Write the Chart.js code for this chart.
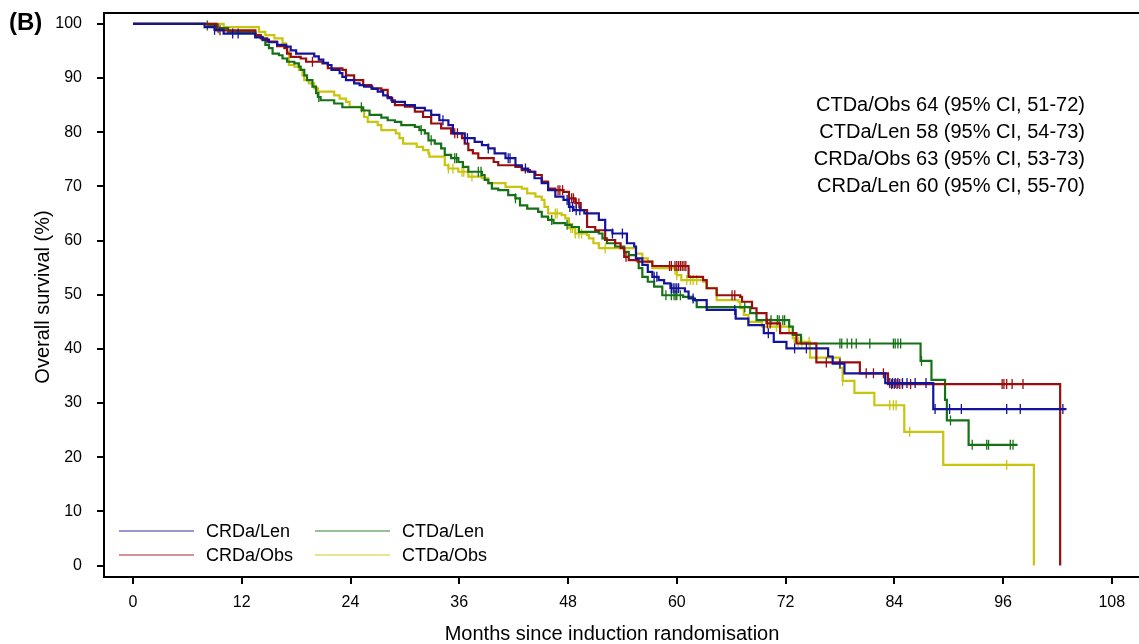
<!DOCTYPE html>
<html>
<head>
<meta charset="utf-8">
<title>Overall survival</title>
<script src="https://cdn.jsdelivr.net/npm/chart.js@4.4.1/dist/chart.umd.min.js"></script>
<style>
  html, body { margin: 0; padding: 0; background: #fff; }
  #wrap { width: 1139px; height: 644px; position: relative; }
</style>
</head>
<body>
<div id="wrap"><canvas id="osChart"></canvas></div>
<script>
// Kaplan-Meier steps: months and survival (%) after each drop
const crdaLenTime = [0, 7.9, 9.0, 10.0, 13.5, 14.3, 15.0, 15.9, 16.9, 17.4, 18.0, 20.0, 20.5, 21.0, 21.5, 21.9, 22.8, 23.1, 23.5, 24.4, 25.0, 25.5, 26.4, 27.0, 27.6, 28.1, 28.6, 30.0, 31.1, 32.2, 32.9, 33.8, 34.8, 35.3, 36.6, 37.7, 38.5, 39.2, 39.9, 41.1, 42.2, 42.9, 43.6, 44.3, 45.1, 45.8, 46.6, 47.5, 48.1, 48.6, 49.8, 51.4, 52.1, 52.9, 54.5, 55.3, 55.5, 56.2, 56.8, 57.3, 58.0, 58.6, 59.3, 60.9, 61.3, 62.0, 63.3, 66.5, 67.9, 69.6, 70.7, 72.1, 76.7, 77.2, 78.5, 83.0, 88.3, 103.0];
const crdaLenSurv = [100, 99.4, 98.9, 98.2, 97.5, 97.1, 96.6, 96.1, 95.8, 95.1, 94.5, 94.0, 93.4, 92.8, 92.4, 91.5, 90.9, 90.2, 89.6, 89.0, 88.7, 88.4, 88.0, 87.5, 86.8, 86.3, 85.6, 85.0, 84.5, 84.0, 83.2, 82.2, 81.3, 79.8, 78.9, 78.2, 77.6, 77.0, 76.1, 75.2, 73.9, 73.3, 72.7, 71.5, 70.6, 69.3, 68.1, 67.5, 66.2, 65.6, 65.0, 63.8, 61.9, 61.3, 59.5, 58.9, 56.7, 55.5, 54.2, 53.3, 52.7, 52.1, 51.2, 50.6, 49.3, 49.0, 47.2, 45.6, 44.4, 42.9, 41.3, 40.1, 38.6, 37.3, 35.5, 33.7, 28.9, 28.9];
const crdaLenCensor = [9.0, 11.0, 11.6, 34.2, 36.6, 36.9, 39.2, 41.4, 41.6, 43.3, 47.9, 48.2, 48.5, 48.9, 49.3, 52.9, 54.0, 57.5, 57.8, 59.4, 59.6, 59.8, 60.0, 60.2, 61.8, 66.4, 70.1, 73.0, 74.3, 78.0, 83.5, 83.8, 84.1, 84.4, 84.9, 85.4, 86.3, 87.5, 88.5, 90.1, 91.4, 96.4, 97.9, 102.6];

const crdaObsTime = [0, 9.2, 13.5, 14.1, 14.8, 15.9, 16.7, 17.0, 17.4, 18.5, 19.1, 20.9, 21.5, 23.1, 23.5, 24.4, 25.4, 26.3, 27.4, 28.1, 28.5, 28.9, 30.0, 31.1, 32.0, 32.9, 34.0, 35.1, 36.3, 36.6, 37.0, 37.5, 38.1, 39.8, 40.3, 42.2, 42.9, 43.8, 44.4, 45.1, 45.8, 46.6, 47.5, 48.1, 48.8, 49.4, 50.1, 51.0, 52.1, 53.2, 53.8, 54.2, 54.7, 55.7, 57.3, 61.3, 62.9, 63.3, 64.4, 67.0, 67.2, 68.3, 68.8, 69.9, 71.4, 73.2, 75.4, 80.2, 83.3, 102.3];
const crdaObsSurv = [100, 98.8, 97.9, 97.3, 96.7, 95.9, 95.5, 94.5, 93.9, 93.6, 93.0, 92.7, 91.8, 91.5, 90.5, 89.6, 88.7, 88.1, 87.8, 86.5, 85.9, 85.0, 84.7, 83.8, 82.8, 81.6, 80.7, 79.8, 78.9, 77.9, 76.7, 76.1, 75.2, 74.5, 73.9, 73.6, 73.0, 72.7, 72.1, 70.9, 69.6, 69.3, 69.0, 67.8, 66.9, 65.6, 62.5, 61.9, 60.1, 59.5, 58.6, 57.0, 56.4, 56.1, 55.3, 53.3, 52.7, 51.2, 49.9, 49.6, 48.7, 47.5, 46.6, 44.7, 42.9, 41.0, 37.5, 35.5, 33.5, 0];
const crdaObsCensor = [9.6, 19.8, 35.5, 35.8, 46.9, 47.1, 47.4, 48.1, 48.4, 48.6, 48.9, 49.2, 54.4, 59.2, 59.4, 59.8, 60.0, 60.2, 60.4, 60.6, 60.8, 61.0, 66.1, 66.4, 70.0, 70.3, 76.5, 80.9, 81.7, 82.8, 83.7, 84.0, 84.3, 84.6, 84.9, 85.8, 95.9, 96.1, 96.4, 97.0, 98.2];

const ctdaLenTime = [0, 8.2, 9.3, 10.5, 13.5, 14.3, 14.6, 15.0, 15.4, 16.1, 16.5, 17.0, 17.8, 18.3, 18.5, 18.9, 19.2, 19.8, 20.2, 20.4, 20.7, 22.2, 23.1, 25.4, 26.1, 27.4, 28.1, 28.9, 29.6, 31.1, 31.6, 32.2, 32.6, 33.3, 34.0, 34.4, 35.1, 35.9, 36.4, 37.0, 38.5, 38.8, 39.2, 39.6, 40.3, 41.4, 42.2, 42.7, 43.5, 44.7, 45.1, 45.8, 46.4, 47.7, 48.4, 49.2, 51.4, 51.8, 52.3, 53.2, 54.2, 54.7, 55.5, 55.8, 56.2, 56.8, 57.5, 58.4, 60.7, 61.8, 62.2, 68.1, 68.8, 72.4, 72.8, 73.7, 86.9, 88.1, 89.6, 89.8, 92.2, 97.6];
const ctdaLenSurv = [100, 99.7, 99.2, 98.5, 97.6, 97.0, 96.1, 95.5, 94.5, 94.2, 93.6, 93.0, 92.7, 92.1, 91.5, 90.5, 89.6, 88.4, 87.2, 86.5, 85.9, 85.3, 84.6, 84.0, 83.2, 82.7, 82.2, 81.9, 81.3, 81.0, 80.4, 79.8, 78.5, 77.9, 77.0, 75.8, 75.2, 74.5, 73.6, 72.7, 72.1, 71.2, 70.6, 69.6, 69.3, 68.4, 67.8, 66.5, 65.9, 65.3, 64.4, 63.8, 63.2, 62.9, 62.5, 61.6, 61.3, 60.4, 59.5, 58.9, 57.9, 57.3, 56.4, 54.9, 53.3, 52.4, 51.5, 49.9, 49.6, 49.0, 47.7, 46.6, 45.3, 44.1, 42.6, 41.0, 37.8, 34.3, 30.6, 26.8, 22.3, 22.3];
const ctdaLenCensor = [8.2, 9.4, 20.5, 25.2, 31.8, 32.9, 35.5, 35.7, 38.1, 38.4, 42.2, 46.2, 47.9, 58.8, 59.4, 59.7, 59.9, 60.0, 60.4, 67.5, 70.4, 71.1, 71.3, 71.7, 71.9, 78.0, 78.2, 78.8, 79.3, 79.8, 81.3, 83.9, 84.1, 84.4, 84.7, 87.0, 90.2, 92.6, 94.2, 94.4, 96.8, 97.1];

const ctdaObsTime = [0, 10.0, 13.9, 14.6, 15.6, 16.5, 16.9, 17.0, 17.2, 17.8, 18.3, 18.7, 18.9, 19.4, 20.0, 20.4, 22.2, 22.8, 23.5, 23.9, 25.2, 25.5, 25.9, 27.0, 27.4, 29.0, 29.4, 29.8, 31.3, 32.0, 32.6, 32.7, 34.4, 34.8, 35.9, 37.0, 38.5, 39.2, 41.1, 42.9, 43.5, 44.4, 45.1, 45.4, 45.8, 47.3, 47.7, 48.1, 48.8, 50.1, 50.3, 50.8, 51.4, 55.5, 56.2, 56.8, 57.3, 59.8, 60.0, 60.5, 62.9, 63.3, 64.4, 66.8, 67.0, 67.4, 67.9, 69.4, 72.4, 72.8, 73.0, 74.7, 78.0, 78.3, 79.6, 81.8, 85.1, 89.4, 99.4];
const ctdaObsSurv = [100, 99.4, 98.5, 97.9, 97.3, 96.4, 95.8, 94.8, 92.4, 92.1, 91.5, 90.5, 89.6, 89.0, 88.1, 87.5, 86.8, 86.2, 85.6, 84.7, 84.1, 82.8, 81.9, 81.3, 80.4, 79.8, 78.9, 77.9, 77.3, 76.7, 76.1, 75.5, 73.9, 73.3, 72.7, 71.8, 71.5, 70.6, 69.9, 69.6, 68.7, 68.1, 67.5, 66.2, 65.0, 64.7, 64.1, 62.3, 61.3, 61.0, 60.4, 59.5, 58.6, 57.6, 56.7, 56.1, 54.9, 54.6, 53.6, 52.7, 52.4, 51.2, 49.0, 48.7, 47.5, 46.3, 45.0, 44.1, 42.9, 42.0, 41.3, 38.4, 36.5, 34.1, 31.9, 29.6, 24.7, 18.6, 0];
const ctdaObsCensor = [34.8, 35.3, 36.3, 36.5, 37.4, 46.6, 46.8, 48.3, 48.5, 48.8, 49.2, 49.5, 52.1, 59.8, 60.0, 61.1, 61.5, 61.8, 62.2, 71.0, 73.4, 73.8, 74.6, 78.3, 83.5, 83.9, 84.2, 85.7, 96.4];

const xTicks = [0, 12, 24, 36, 48, 60, 72, 84, 96, 108];
const yTicks = [0, 10, 20, 30, 40, 50, 60, 70, 80, 90, 100];

const medianLines = [
  'CTDa/Obs 64 (95% CI, 51-72)',
  'CTDa/Len 58 (95% CI, 54-73)',
  'CRDa/Obs 63 (95% CI, 53-73)',
  'CRDa/Len 60 (95% CI, 55-70)'
];

const FONT = '"Liberation Sans", Arial, sans-serif';

const groups = [
  { label: 'CRDa/Len', color: '#14149a', time: crdaLenTime, surv: crdaLenSurv, censor: crdaLenCensor },
  { label: 'CRDa/Obs', color: '#990d0d', time: crdaObsTime, surv: crdaObsSurv, censor: crdaObsCensor },
  { label: 'CTDa/Len', color: '#167116', time: ctdaLenTime, surv: ctdaLenSurv, censor: ctdaLenCensor },
  { label: 'CTDa/Obs', color: '#c9c40c', time: ctdaObsTime, surv: ctdaObsSurv, censor: ctdaObsCensor }
];

// survival value of a step curve at time t
function survAt(g, t) {
  let s = g.surv[0];
  for (let i = 0; i < g.time.length; i++) {
    if (g.time[i] <= t && g.surv[i] > 0) s = g.surv[i];
  }
  return s;
}

const datasets = [];
groups.forEach(function (g) {
  datasets.push({
    type: 'line',
    label: g.label,
    data: g.time.map((t, i) => ({ x: t, y: g.surv[i] })),
    borderColor: g.color,
    borderWidth: 2.2,
    stepped: 'before',
    pointRadius: 0,
    fill: false
  });
  datasets.push({
    type: 'scatter',
    label: g.label + ' censored',
    data: g.censor.map(t => ({ x: t, y: survAt(g, t) })),
    borderColor: g.color,
    backgroundColor: g.color,
    pointStyle: 'line',
    rotation: 90,
    pointRadius: 5,
    borderWidth: 1.3
  });
});

// no extra room around the axes: the plot box runs to the canvas edge
function noPadding(scale) {
  scale.paddingTop = 0;
  scale.paddingBottom = 0;
  scale.paddingLeft = 0;
  scale.paddingRight = 0;
}

// frame, legend and text
const decorations = {
  id: 'decorations',
  afterDraw(chart) {
    const ctx = chart.ctx;
    const area = chart.chartArea;
    ctx.save();
    ctx.strokeStyle = '#000';
    ctx.lineWidth = 2;
    ctx.beginPath();
    ctx.moveTo(area.left - 1, area.top);
    ctx.lineTo(chart.width, area.top);
    ctx.stroke();

    ctx.fillStyle = '#000';
    ctx.font = 'bold 24px ' + FONT;
    ctx.textAlign = 'left';
    ctx.textBaseline = 'middle';
    ctx.fillText('(B)', 9, 23);

    ctx.font = '20px ' + FONT;
    ctx.textAlign = 'right';
    medianLines.forEach((txt, i) => ctx.fillText(txt, 1085, 105 + i * 27));

    ctx.font = '20px ' + FONT;
    ctx.textAlign = 'center';
    ctx.fillText('Months since induction randomisation', 612, 634);
    ctx.save();
    ctx.translate(43, 297);
    ctx.rotate(-Math.PI / 2);
    ctx.fillText('Overall survival (%)', 0, 0);
    ctx.restore();

    // legend: two columns, two rows
    const order = [0, 2, 1, 3];
    ctx.font = '18px ' + FONT;
    ctx.textAlign = 'left';
    order.forEach((gi, k) => {
      const g = groups[gi];
      const col = k % 2, row = Math.floor(k / 2);
      const x0 = 119 + col * 196;
      const y0 = 531 + row * 24;
      ctx.globalAlpha = 0.6;
      ctx.strokeStyle = g.color;
      ctx.lineWidth = 1.5;
      ctx.beginPath();
      ctx.moveTo(x0, y0);
      ctx.lineTo(x0 + 75, y0);
      ctx.stroke();
      ctx.globalAlpha = 1;
      ctx.fillStyle = '#000';
      ctx.fillText(g.label, x0 + 87, y0 + 1);
    });
    ctx.restore();
  }
};

new Chart(document.getElementById('osChart'), {
  type: 'scatter',
  data: { datasets: datasets },
  options: {
    responsive: true,
    maintainAspectRatio: false,
    animation: false,
    layout: { autoPadding: false, padding: { top: 13, right: 0, left: 0, bottom: 0 } },
    plugins: {
      legend: { display: false },
      tooltip: { enabled: false }
    },
    scales: {
      x: {
        type: 'linear',
        min: -3.2,
        max: 111.0,
        afterBuildTicks: scale => { scale.ticks = xTicks.map(v => ({ value: v })); },
        afterFit: scale => { scale.height = 67; noPadding(scale); },
        grid: { drawOnChartArea: false, tickLength: 7, color: '#000', lineWidth: 2 },
        border: { color: '#000', width: 2 },
        ticks: { color: '#000', font: { family: FONT, size: 16 }, padding: 9, maxRotation: 0 }
      },
      y: {
        type: 'linear',
        min: -2.1,
        max: 102,
        afterBuildTicks: scale => { scale.ticks = yTicks.map(v => ({ value: v })); },
        afterFit: scale => { scale.width = 104; noPadding(scale); },
        grid: { drawOnChartArea: false, tickLength: 7, color: '#000', lineWidth: 2 },
        border: { color: '#000', width: 2 },
        ticks: { color: '#000', font: { family: FONT, size: 16 }, padding: 15 }
      }
    }
  },
  plugins: [decorations]
});
</script>
</body>
</html>
